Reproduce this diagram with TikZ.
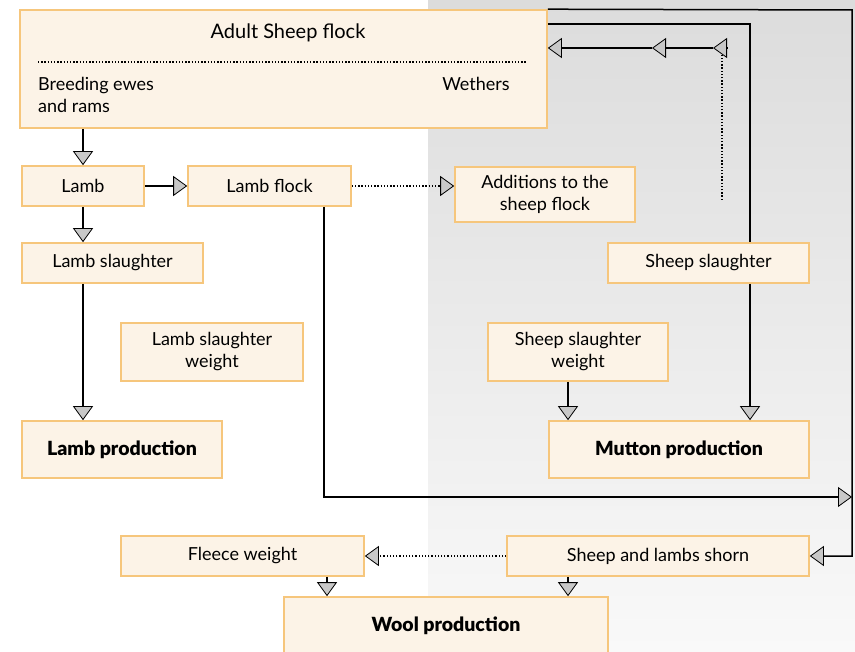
\documentclass[tikz,border=0pt]{standalone}
\usepackage{fontspec}
\setmainfont{Lato}[BoldFont={Lato Black}]
\usetikzlibrary{arrows.meta}
\usetikzlibrary{calc, backgrounds}

\definecolor{boxfill}{RGB}{252,243,231}
\definecolor{boxline}{RGB}{246,198,124}
\definecolor{tipfill}{RGB}{200,200,200}
\definecolor{bgtop}{RGB}{220,220,220}
\definecolor{bgbottom}{RGB}{249,249,249}

\begin{document}
\begin{tikzpicture}[x=1pt, y=-1pt, >={Triangle[length=14pt, width=20pt, fill=tipfill, line width=0.8pt]}, font=\fontsize{18}{22}\selectfont]

%====Stili=====================================================================

	\tikzstyle{box}=[draw=boxline, fill=boxfill, line width=1.6pt, inner sep=2pt, align=center]
	\tikzstyle{main}=[font=\fontsize{19.5}{22}\selectfont\bfseries]
	\tikzstyle{link}=[line width=1.5pt, black]
	\tikzstyle{flow}=[link, ->]
	\tikzstyle{dots}=[line width=1.3pt, dash pattern=on 1.3pt off 1.9pt]

%====Sfondo====================================================================

	\useasboundingbox (0,0) rectangle (855,652);
	\fill[top color=bgtop, bottom color=bgbottom, draw=none] (428,0) rectangle (855,652);

%====Blocchi e posizione=======================================================

	\node[box, minimum width=527pt, minimum height=118pt]	(adult) 		at (283.5,69)		{};
	\node[font=\fontsize{20}{22}\selectfont]			(adultT) 		at (288,33)		{Adult Sheep flock};
	\node[anchor=west, align=left, inner sep=0pt]			(breeding) 		at (38,95)		{Breeding ewes\\and rams};
	\node[inner sep=0pt]						(wethers) 		at (476,84)		{Wethers};

	\node[box, minimum width=122pt, minimum height=40pt]	(lamb) 		at (83,186)		{Lamb};
	\node[box, minimum width=163pt, minimum height=40pt]	(lambflock) 	at (269.5,186)	{Lamb flock};
	\node[box, minimum width=180pt, minimum height=55pt]	(additions) 	at (545,194.5)	{Additions to the\\sheep flock};
	\node[box, minimum width=181pt, minimum height=40pt]	(lambslaughter) 	at (112.5,263)	{Lamb slaughter};
	\node[box, minimum width=201pt, minimum height=40pt]	(sheepslaughter) 	at (708.5,263)	{Sheep slaughter};
	\node[box, minimum width=182pt, minimum height=58pt]	(lambweight) 	at (212,352)		{Lamb slaughter\\weight};
	\node[box, minimum width=180pt, minimum height=58pt]	(sheepweight) 	at (578,352)		{Sheep slaughter\\weight};
	\node[box, main, minimum width=200pt, minimum height=57pt]	(lambprod) 	at (122,449.5)	{Lamb production};
	\node[box, main, minimum width=260pt, minimum height=57pt]	(mutton) 	at (679,449.5)	{Mutton production};
	\node[box, minimum width=243pt, minimum height=40pt]	(fleece) 		at (242.5,556)	{Fleece weight};
	\node[box, minimum width=302pt, minimum height=40pt]	(shorn) 		at (658,556)		{Sheep and lambs shorn};
	\node[box, main, minimum width=324pt, minimum height=58pt]	(wool) 	at (446,626)		{Wool production};

	\draw[dots] (38,62) -- (527,62);

%====Punti di appoggio=========================================================

	\coordinate (outerTop) 	at (852,10);
	\coordinate (innerTop) 	at (750,24);
	\coordinate (wA) 		at (727,48);
	\coordinate (wB) 		at (713,48);
	\coordinate (wC) 		at (652,48);
	\coordinate (dotBottom) 	at (722,200);
	\coordinate (lfCorner) 	at (324,497);
	\coordinate (rightMid) 	at (852,497);
	\coordinate (weightCol) 	at (568,0);
	\coordinate (fleeceCol) 	at (327,0);

%====Collegamenti e stile frecce===============================================

	\draw[flow] (adult.south -| lamb) -- (lamb.north);
	\draw[flow] (lamb) -- (lambflock);
	\draw[flow] (lamb) -- (lamb |- lambslaughter.north);
	\draw[flow] (lamb |- lambslaughter.south) -- (lamb |- lambprod.north);
	\draw[flow, dots] (lambflock) -- (lambflock -| additions.west);

	\draw[flow] (lambflock.south -| lfCorner) -- (lfCorner) -- (rightMid);
	\draw[flow] (adult.north east) -- (outerTop) -- (outerTop |- shorn) -- (shorn.east);

	\draw[link] (adult.east |- innerTop) -- (innerTop) -- (innerTop |- sheepslaughter.north);
	\draw[flow] (innerTop |- sheepslaughter.south) -- (innerTop |- mutton.north);
	\draw[flow] (sheepweight.south -| weightCol) -- (mutton.north -| weightCol);

	\draw[dots] (dotBottom) -- (dotBottom |- wA);
	\draw[flow] (wA) -- (wB);
	\draw[flow] (wB) -- (wC);
	\draw[flow] (wC) -- (adult.east |- wC);

	\draw[flow, dots] (shorn) -- (fleece);
	\draw[flow] (fleece.south -| fleeceCol) -- (wool.north -| fleeceCol);
	\draw[flow] (shorn.south -| weightCol) -- (wool.north -| weightCol);

\end{tikzpicture}
\end{document}
